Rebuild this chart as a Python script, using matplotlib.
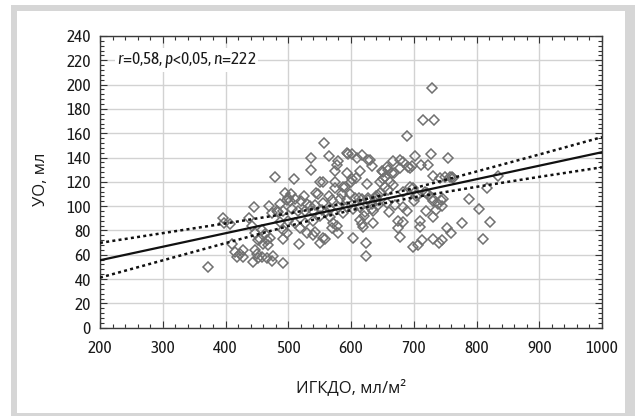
import matplotlib
matplotlib.use("Agg")
import matplotlib.pyplot as plt
from matplotlib.patches import Rectangle
from matplotlib.ticker import MultipleLocator

# scatter values (ИГКДО, УО)
igkdo = [372, 396, 398, 407, 410, 415, 418, 423, 428, 428, 437, 442, 444, 445, 447, 447,
         450, 452, 452, 455, 458, 458, 460, 463, 466, 466, 468, 471, 474, 474, 476, 479,
         484, 487, 487, 492, 492, 492, 492, 495, 498, 498, 500, 500, 503, 506, 509, 511,
         511, 516, 519, 517, 527, 527, 530, 530, 537, 537, 540, 540, 540, 543, 543, 545,
         548, 551, 551, 551, 554, 555, 555, 555, 557, 559, 565, 567, 567, 570, 570, 571,
         575, 575, 575, 577, 577, 579, 579, 579, 582, 587, 587, 590, 593, 593, 594, 594,
         596, 600, 601, 601, 603, 603, 606, 608, 609, 612, 614, 614, 614, 617, 617, 617,
         619, 620, 622, 624, 624, 625, 627, 627, 627, 630, 633, 633, 633, 635, 635, 638,
         641, 643, 643, 646, 646, 649, 651, 651, 654, 654, 657, 657, 659, 659, 662, 665,
         667, 667, 669, 670, 675, 675, 678, 678, 678, 683, 683, 683, 683, 689, 691, 694,
         694, 697, 699, 699, 702, 704, 707, 707, 710, 710, 712, 713, 715, 718, 721, 723,
         723, 727, 729, 729, 731, 731, 731, 731, 732, 736, 739, 740, 742, 744, 745, 745,
         747, 750, 753, 755, 757, 759, 761, 763, 777, 788, 804, 810, 817, 821, 834, 470,
         482, 520, 525, 535, 560, 565, 585, 598, 640, 660, 690, 700, 720, 505]
uo = [50, 90, 86, 85, 69, 62, 58, 61, 64, 58, 90, 84, 54, 99, 78, 64,
      61, 72, 57, 73, 80, 58, 69, 77, 72, 57, 68, 74, 55, 94, 59, 124,
      95, 87, 102, 80, 96, 73, 53, 111, 78, 105, 107, 88, 104, 98, 122, 106,
      86, 96, 82, 69, 96, 86, 102, 78, 140, 130, 96, 88, 76, 101, 79, 111,
      110, 120, 92, 70, 97, 120, 103, 74, 152, 73, 141, 98, 91, 105, 82, 86,
      129, 120, 115, 134, 84, 137, 99, 78, 106, 116, 94, 116, 144, 127, 105, 99,
      143, 120, 143, 122, 98, 74, 107, 123, 140, 107, 129, 99, 89, 142, 106, 85,
      83, 92, 95, 70, 59, 118, 138, 107, 105, 138, 133, 102, 98, 86, 96, 107,
      105, 109, 101, 120, 111, 129, 128, 122, 124, 116, 132, 103, 130, 113, 120, 127,
      137, 117, 127, 101, 88, 82, 138, 131, 75, 136, 112, 99, 87, 158, 132, 131,
      116, 133, 115, 66, 141, 108, 109, 68, 88, 83, 134, 72, 171, 112, 111, 134,
      109, 143, 197, 107, 125, 104, 91, 73, 171, 97, 102, 70, 123, 105, 100, 72,
      106, 124, 82, 140, 124, 78, 124, 123, 86, 106, 98, 73, 115, 87, 125, 100,
      96, 104, 108, 100, 95, 108, 110, 110, 108, 95, 96, 104, 96, 110]

# regression line and its confidence band
fit_x = [200, 1000]
fit_y = [55.5, 144.4]
band_x = [200, 300, 400, 500, 600, 700, 800, 900, 1000]
band_upper = [69.8, 77.8, 85.8, 94.0, 103.1, 114.7, 128.5, 142.5, 156.8]
band_lower = [41.2, 55.4, 69.6, 83.6, 96.7, 107.3, 115.9, 124.1, 132.0]

stats_text = "$r$=0,58, $p$<0,05, $n$=222"

narrow = ["Asap Condensed", "DejaVu Sans"]
plt.rcParams["mathtext.fontset"] = "custom"
plt.rcParams["mathtext.it"] = "Asap Condensed:italic"
plt.rcParams["mathtext.rm"] = "Asap Condensed"

fig = plt.figure(figsize=(6.35, 4.16), dpi=100)
W, H = 635, 416

# light grey frame round the panel
fig.patches.append(Rectangle((11 / W, 0), 1, (H - 5) / H, transform=fig.transFigure,
                             facecolor="#d6d6d6", edgecolor="none", zorder=-2))
fig.patches.append(Rectangle((16.5 / W, 3 / H), (625 - 16.5) / W, (H - 14) / H,
                             transform=fig.transFigure, facecolor="white",
                             edgecolor="none", zorder=-1))

ax = fig.add_axes([100 / W, 1 - 327.7 / H, 502 / W, 291.7 / H])

ax.plot(igkdo, uo, linestyle="none", marker="D", markersize=5.0,
        markerfacecolor="none", markeredgecolor="#707070", markeredgewidth=1.1, zorder=3)
ax.plot(fit_x, fit_y, color="#111111", linewidth=1.6, zorder=4)
ax.plot(band_x, band_upper, color="#111111", linewidth=1.8, linestyle=(0, (1.2, 1.3)), zorder=4)
ax.plot(band_x, band_lower, color="#111111", linewidth=1.8, linestyle=(0, (1.2, 1.3)), zorder=4)

ax.set_xlim(200, 1000)
ax.set_ylim(0, 240)
ax.xaxis.set_major_locator(MultipleLocator(100))
ax.xaxis.set_minor_locator(MultipleLocator(20))
ax.yaxis.set_major_locator(MultipleLocator(20))
ax.yaxis.set_minor_locator(MultipleLocator(4))
ax.grid(True, which="major", color="#d2d2d2", linewidth=1.0)
ax.set_axisbelow(True)

ax.tick_params(which="both", direction="in", top=True, right=True, color="#333333", width=0.8)
ax.tick_params(which="major", length=5)
ax.tick_params(which="minor", length=3)
ax.tick_params(axis="x", which="major", pad=8.5)
ax.tick_params(axis="y", which="major", pad=6.5)
for lab in ax.get_xticklabels() + ax.get_yticklabels():
    lab.set_family(narrow)
    lab.set_fontsize(12.5)
    lab.set_color("#1a1a1a")
for sp in ax.spines.values():
    sp.set_color("#3a3a3a")
    sp.set_linewidth(1.0)

ax.set_xlabel("ИГКДО, мл/м²", family=["Open Sans", "DejaVu Sans"], fontsize=12, color="#1a1a1a")
ax.set_ylabel("УО, мл", family=["Open Sans", "DejaVu Sans"], fontsize=12, color="#1a1a1a")
ax.xaxis.set_label_coords(0.5, -0.176)
ax.yaxis.set_label_coords(-0.101, 0.51)

ax.text(227, 220, stats_text, family=narrow, fontsize=12.5, color="#1a1a1a",
        ha="left", va="center", zorder=5,
        bbox=dict(facecolor="white", edgecolor="none", pad=1.5))

fig.savefig("out.png", dpi=100)
